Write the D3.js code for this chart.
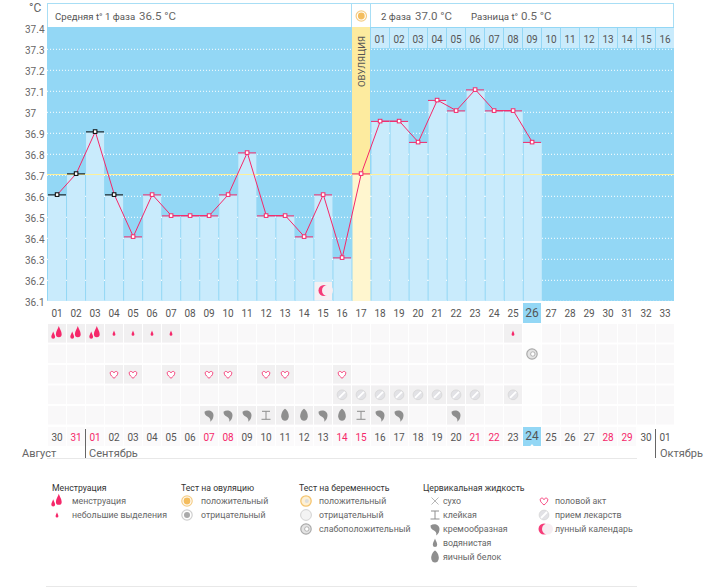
<!DOCTYPE html>
<html><head><meta charset="utf-8">
<script src="https://cdn.jsdelivr.net/npm/d3@7"></script>
<style>
html,body{margin:0;padding:0;background:#fff}
svg{display:block}
text{font-family:Roboto,sans-serif;fill:#666;font-size:10px}
</style></head><body>
<svg id="c" width="712" height="587"></svg>
<script>
// ---- data ----
const cycleDays=d3.range(1,34);
const cycleLabels=["01","02","03","04","05","06","07","08","09","10","11","12","13","14","15","16","17","18","19","20","21","22","23","24","25","26","27","28","29","30","31","32","33"];
const temperatures=[36.6,36.7,36.9,36.6,36.4,36.6,36.5,36.5,36.5,36.6,36.8,36.5,36.5,36.4,36.6,36.3,36.7,36.95,36.95,36.85,37.05,37.0,37.1,37.0,37.0,36.85];
const yTicks=[37.4,37.3,37.2,37.1,37,36.9,36.8,36.7,36.6,36.5,36.4,36.3,36.2,36.1];
const phase2Labels=["01","02","03","04","05","06","07","08","09","10","11","12","13","14","15","16"];
const dateLabels=["30","31","01","02","03","04","05","06","07","08","09","10","11","12","13","14","15","16","17","18","19","20","21","22","23","24","25","26","27","28","29","30","01"];
const redDays=[2,3,9,10,16,17,23,24,30,31];
const menstruationHeavy=[1,2,3];
const menstruationLight=[4,5,6,7,25];
const pregnancyWeak=[26];
const intercourse=[4,5,7,9,10,12,13,16];
const medication=[16,17,18,19,20,21,22,23,25];
const fluidCreamy=[9,10,11,15,18,19,22];
const fluidSticky=[12,17];
const fluidEgg=[13,14,16];
const moonDays=[15];
const blackMarkerDays=[1,2,3,4];
const ovulationDay=17, todayDay=26, ovulationTemp=36.7;
const months=[["Август",22],["Сентябрь",89],["Октябрь",660]];
const monthRules=[85.5,655.5];
const legendGroups=[
 {title:"Менструация",tx:52,ix:57,lx:72,items:[["heavy","менструация"],["drop","небольшие выделения"]]},
 {title:"Тест на овуляцию",tx:181,ix:187,lx:201,items:[["ovPos","положительный"],["ovNeg","отрицательный"]]},
 {title:"Тест на беременность",tx:299,ix:306,lx:319,items:[["prPos","положительный"],["prNeg","отрицательный"],["prWeak","слабоположительный"]]},
 {title:"Цервикальная жидкость",tx:423,ix:435,lx:443,items:[["dry","сухо"],["sticky","клейкая"],["creamy","кремообразная"],["watery","водянистая"],["egg","яичный белок"]]},
 {title:"",tx:0,ix:544,lx:555,items:[["heart","половой акт"],["pill","прием лекарств"],["moon","лунный календарь"]]}
];
// ---- scales ----
const svg=d3.select("#c");
const x=d3.scaleBand().domain(cycleDays).range([48,675]).paddingInner(1/19).paddingOuter(0).align(0);
const step=19, bw=18;
const cx=d=>48+(d-1)*step+bw/2;
const xl=d=>48+(d-1)*step;
const y=d3.scaleLinear().domain([36.1,37.4]).range([300.4,27.4]);
const PINK="#f5286a", SEP="#93d7f5", BAR="#c9ebfc";
// ---- icons ----
const drop=(g,s,dx,dy,f)=>g.append("path").attr("transform",`translate(${dx},${dy}) scale(${s})`).attr("fill",f)
 .attr("d","M0,-4.5 C.5,-2.5 2,-1 2,1.2 A2,2 0 0 1 -2,1.2 C-2,-1 -.5,-2.5 0,-4.5Z");
const icons={
 heavy(g){drop(g,1.45,1.8,-.8,PINK);drop(g,.95,-3.8,2.4,PINK);},
 drop(g){drop(g,.7,0,.3,PINK);},
 heart(g){g.append("path").attr("fill","#fff").attr("stroke",PINK).attr("stroke-width",1).attr("stroke-opacity",.85)
   .attr("d","M0,4 C-1.5,2.6 -3.8,1 -3.8,-1.2 C-3.8,-3.2 -1,-3.6 0,-1.4 C1,-3.6 3.8,-3.2 3.8,-1.2 C3.8,1 1.5,2.6 0,4Z");},
 pill(g){g.append("circle").attr("r",4.9).attr("fill","#e2e2e6").attr("stroke","#d4d4d4").attr("stroke-width",.7);
   g.append("line").attr("x1",-3).attr("y1",3).attr("x2",3).attr("y2",-3).attr("stroke","#fff").attr("stroke-width",1.8);},
 creamy(g){g.append("path").attr("fill","#8e8e8e").attr("d","M-4.5,-3.5 C-1,-6 4.5,-4.5 4.5,0 C4.5,2.5 3.5,5 1,6.5 C2,4.5 1,2.5 -1,1.5 C-3,.8 -4.5,-.5 -4.5,-3.5Z");},
 sticky(g){g.append("path").attr("fill","none").attr("stroke","#8e8e8e").attr("stroke-width",1).attr("d","M-4,-4H4M0,-4V4M-4.5,4H4.5");},
 egg(g){g.append("path").attr("fill","#8e8e8e").attr("d","M0,-6.5 C2,-5.5 3.8,-2 3.8,1 A3.8,4.5 0 0 1 -3.8,1 C-3.8,-2 -2,-5.5 0,-6.5Z");},
 watery(g){drop(g,1.1,0,.5,"#8e8e8e");},
 dry(g){g.append("path").attr("stroke","#999").attr("stroke-width",.7).attr("d","M-3.5,-3.5L3.5,3.5M3.5,-3.5L-3.5,3.5");},
 moon(g){g.append("circle").attr("r",5.5).attr("fill",PINK).attr("opacity",.9);
   g.append("circle").attr("r",5.5).attr("cx",3.5).attr("fill","#f6eef2");},
 ovPos(g){g.append("circle").attr("r",5.2).attr("fill","#fff").attr("stroke","#f5cd86").attr("stroke-width",1.2);
   g.append("circle").attr("r",3.4).attr("fill","#f4bd5e");},
 ovNeg(g){g.append("circle").attr("r",5.2).attr("fill","#fff").attr("stroke","#cfcfcf").attr("stroke-width",1.2);
   g.append("circle").attr("r",3).attr("fill","#aaa");},
 prPos(g){g.append("circle").attr("r",5.2).attr("fill","#fdf0d5").attr("stroke","#f4c46f").attr("stroke-width",1.3);
   g.append("circle").attr("r",2).attr("cx",.8).attr("fill","#ddd");},
 prNeg(g){g.append("circle").attr("r",5.4).attr("fill","#f3f3f3").attr("stroke","#d2d2d2").attr("stroke-width",1);},
 prWeak(g){g.append("circle").attr("r",5.2).attr("fill","#e4e4e4").attr("stroke","#aaa").attr("stroke-width",1.2);
   g.append("circle").attr("r",2.2).attr("cx",.8).attr("fill","#fff").attr("stroke","#999").attr("stroke-width",.7);}
};
const icon=(name,px,py)=>{const g=svg.append("g").attr("transform",`translate(${px},${py})`);icons[name](g);};
// ---- header ----
svg.append("rect").attr("x",47.5).attr("y",3.5).attr("width",626).attr("height",24).attr("fill","#fff").attr("stroke","#a8def5");
svg.append("path").attr("stroke","#a8def5").attr("d","M351.5,3V27M370.5,3V27");
const t=(s,px,py,size,col,anchor)=>svg.append("text").attr("x",px).attr("y",py).style("font-size",size+"px")
  .style("fill",col||"#666").attr("text-anchor",anchor||"start").text(s);
t("Средняя t° 1 фаза",55,19.5,9.6,"#555");
t("36.5 °C",139,19.5,11.5,"#666");
t("2 фаза",381,19.5,9.6,"#555");
t("37.0 °C",415,19.5,11.5,"#666");
t("Разница t°",471,19.5,9.6,"#555");
t("0.5 °C",521,19.5,11.5,"#666");
t("°C",29,12,12,"#666");
icon("ovPos",361.3,16);
// ---- plot ----
svg.append("rect").attr("x",47).attr("y",27).attr("width",627).attr("height",274).attr("fill",SEP);
const gridVals=yTicks.slice(1);
svg.append("g").selectAll("line").data(gridVals).join("line")
 .attr("x1",47).attr("x2",674).attr("y1",d=>y(d)+.9).attr("y2",d=>y(d)+.9)
 .attr("stroke","#fff").attr("stroke-width",1).attr("stroke-dasharray","1 2");
// top labels, phase 2
svg.append("g").selectAll("rect").data(phase2Labels).join("rect")
 .attr("x",(d,i)=>xl(18+i)).attr("y",28).attr("width",bw).attr("height",20).attr("fill",BAR);
svg.append("g").selectAll("text").data(phase2Labels).join("text")
 .attr("x",(d,i)=>cx(18+i)).attr("y",43.3).attr("text-anchor","middle").style("fill","#555").style("font-size","10px").text(d=>d);
// bars
svg.append("g").selectAll("rect").data(temperatures).join("rect")
 .attr("x",(d,i)=>x(i+1)).attr("width",x.bandwidth()).attr("y",d=>y(d)).attr("height",d=>301-y(d))
 .attr("fill",(d,i)=>i+1===ovulationDay?"#fff6cf":BAR);
// ovulation column
svg.append("rect").attr("x",xl(ovulationDay)).attr("width",bw).attr("y",27).attr("height",y(ovulationTemp)-27).attr("fill","#fdeb9f");
svg.append("g").attr("transform",`translate(${cx(ovulationDay)+3.5},87) rotate(-90)`).append("text").style("font-size","9.6px").style("fill","#555").text("ОВУЛЯЦИЯ");
// separator notches at grid lines
gridVals.forEach(v=>{temperatures.forEach((tv,i)=>{if(tv>v&&i<25){svg.append("rect").attr("x",xl(i+1)+bw).attr("y",y(v)+.4).attr("width",1).attr("height",1).attr("fill","#fff");}});});
// ovulation temperature line
svg.append("line").attr("x1",47).attr("x2",674).attr("y1",y(ovulationTemp)+.1).attr("y2",y(ovulationTemp)+.1).attr("stroke","#fdf09a").attr("stroke-width",1.1);
// moon
moonDays.forEach(d=>{svg.append("rect").attr("x",xl(d)+.5).attr("y",282).attr("width",bw-.5).attr("height",18.5).attr("fill","#f4f0f3");icon("moon",cx(d)+1,290.5);});
// temp line and markers
const line=d3.line().x((d,i)=>cx(i+1)+.3).y(d=>y(d)-.8);
svg.append("path").datum(temperatures).attr("fill","none").attr("stroke",PINK).attr("stroke-width",1).attr("d",line);
svg.append("g").selectAll("line").data(temperatures).join("line")
 .attr("x1",(d,i)=>xl(i+1)).attr("x2",(d,i)=>xl(i+1)+bw).attr("y1",d=>y(d)-.5).attr("y2",d=>y(d)-.5)
 .attr("stroke",(d,i)=>blackMarkerDays.includes(i+1)?"#000":PINK).attr("stroke-width",1);
svg.append("g").selectAll("rect").data(temperatures).join("rect")
 .attr("x",(d,i)=>cx(i+1)-1.7).attr("y",d=>y(d)-2.6).attr("width",3.6).attr("height",3.6)
 .attr("fill","#fff").attr("stroke",(d,i)=>blackMarkerDays.includes(i+1)?"#000":PINK).attr("stroke-width",1);
// y labels
svg.append("g").selectAll("text").data(yTicks).join("text")
 .attr("x",25).attr("y",d=>y(d)+5.6).style("font-size","10px").style("fill","#666").text(d=>d);
// cycle day labels
svg.append("rect").attr("x",xl(todayDay)).attr("y",303).attr("width",bw).attr("height",20).attr("fill",SEP);
svg.append("g").selectAll("text").data(cycleLabels).join("text")
 .attr("x",(d,i)=>cx(i+1)).attr("y",316.5).attr("text-anchor","middle")
 .style("font-size",(d,i)=>i+1===todayDay?"12px":"10px").style("fill","#555").text(d=>d);
// calendar rows
const rowY=[324,344.5,365,385.5,406];
rowY.forEach(ry=>{svg.append("g").selectAll("rect").data(cycleDays).join("rect")
  .attr("x",d=>xl(d)).attr("y",ry).attr("width",bw).attr("height",18.5).attr("fill",d=>d===todayDay?"#fdfdfd":"#f9f8f9");});
const rowMarks=(days,row,name)=>days.forEach(d=>{
  svg.append("rect").attr("x",xl(d)).attr("y",rowY[row]).attr("width",bw).attr("height",18.5).attr("fill","#f1f0f1");
  icon(name,cx(d),rowY[row]+9.3);});
rowMarks(menstruationHeavy,0,"heavy");
rowMarks(menstruationLight,0,"drop");
rowMarks(intercourse,2,"heart");
rowMarks(medication,3,"pill");
rowMarks(fluidCreamy,4,"creamy");
rowMarks(fluidSticky,4,"sticky");
rowMarks(fluidEgg,4,"egg");
pregnancyWeak.forEach(d=>icon("prWeak",cx(d),rowY[1]+9.5));
// dates
svg.append("g").selectAll("rect").data(cycleDays.filter(d=>d<=31)).join("rect")
 .attr("x",d=>xl(d)).attr("y",427).attr("width",bw).attr("height",19).attr("fill",d=>d===todayDay?SEP:"#fbfafb");
svg.append("path").attr("fill","#fff").attr("d",d3.line()([[cx(todayDay)-2.5,447],[cx(todayDay),444],[cx(todayDay)+2.5,447]]));
svg.append("g").selectAll("text").data(dateLabels).join("text")
 .attr("x",(d,i)=>cx(i+1)).attr("y",(d,i)=>i+1===todayDay?440:441).attr("text-anchor","middle")
 .style("font-size",(d,i)=>i+1===todayDay?"12px":"10px")
 .style("fill",(d,i)=>redDays.includes(i+1)?PINK:"#555").text(d=>d);
monthRules.forEach(r=>svg.append("line").attr("x1",r).attr("x2",r).attr("y1",429).attr("y2",458).attr("stroke","#666"));
months.forEach(m=>t(m[0],m[1],457,11,"#666"));
svg.append("path").attr("stroke","#e8e8e8").attr("d","M47,458.5H637M46,586.5H637");
// legend
legendGroups.forEach(g=>{
 if(g.title)t(g.title,g.tx,490.5,8.7,"#333");
 g.items.forEach((it,i)=>{const py=501+i*14;icon(it[0],g.ix,py);t(it[1],g.lx,py+3.2,8.8,"#666");});
});
</script></body></html>
